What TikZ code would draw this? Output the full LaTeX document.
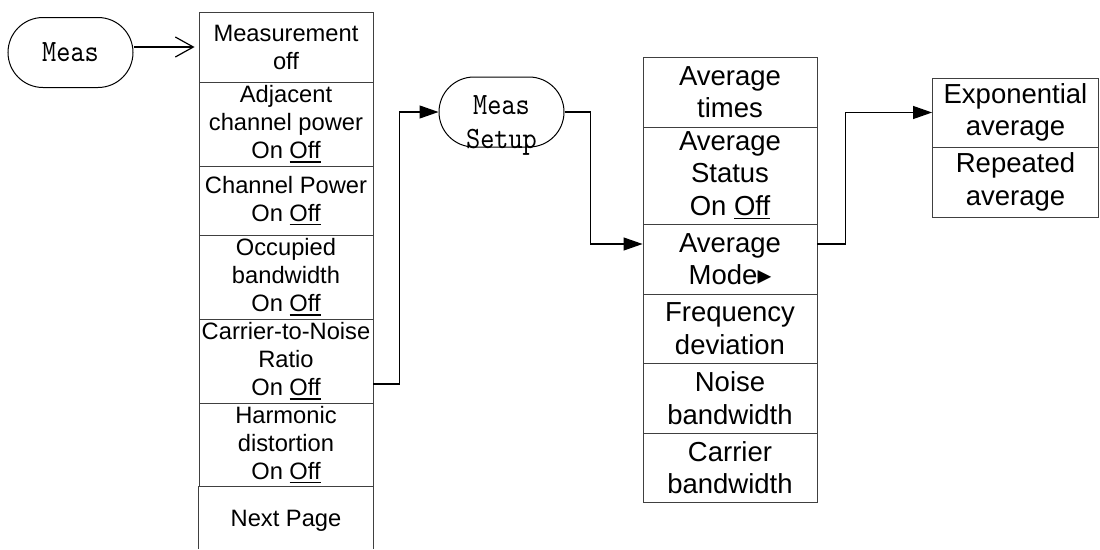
\documentclass[tikz,border=0pt]{standalone}
\usepackage{fontspec}
\setmainfont{Liberation Sans}
\newfontfamily\symfont{DejaVu Sans}
\newfontfamily\keyfont{lmmono10-regular.otf}[FakeStretch=0.87]
\usetikzlibrary{arrows.meta}
% underline for the active state of a toggle
\newcommand{\markoff}[1]{\leavevmode\vtop{\hbox{#1}\kern2.2pt\hrule height 1.5pt}}
\begin{document}
\begin{tikzpicture}[x=1pt,y=-1pt,
  cell/.style={draw=black!75, line width=0.9pt, inner sep=0pt, align=center, minimum width=174pt},
  smallcell/.style={cell, font=\fontsize{23.7}{28}\selectfont},
  bigcell/.style={cell, font=\fontsize{27.5}{32.5}\selectfont},
  oval/.style={draw, line width=1pt, rounded corners=35pt, minimum width=125pt, minimum height=70pt, inner sep=0pt},
  ovalfont/.style={font=\fontsize{31}{34}\selectfont\keyfont, align=center},
  edge/.style={draw=black!75, line width=0.9pt},
  link/.style={line width=1.2pt, -{Triangle[length=19pt,width=13pt]}},
  pointer/.style={line width=1.2pt, -{Straight Barb[length=18pt,width=20pt,line width=1.2pt]}}
]
\useasboundingbox (0,0) rectangle (1100,549);

% soft keys
\node[oval, ovalfont] (meas) at (70.5,52.5) {Meas};
\node[oval] (setup) at (501.5,112) {};
\node[ovalfont, inner sep=0pt] (setuptext) at ([yshift=-13pt]setup.center) {Meas\\Setup};

% Meas menu
\node[smallcell, minimum height=70pt] (m1) at (286,47) {Measurement\\off};
\node[smallcell, minimum height=84pt] (m2) at (286,124) {Adjacent\\channel power\\On \markoff{Off}};
\node[smallcell, minimum height=69pt] (m3) at (286,200.5) {Channel Power\\On \markoff{Off}};
\node[smallcell, minimum height=84pt] (m4) at (286,277) {Occupied\\bandwidth\\On \markoff{Off}};
\node[smallcell, minimum height=84pt] (m5) at (286,361) {Carrier-to-Noise\\Ratio\\On \markoff{Off}};
\node[smallcell, minimum height=83pt] (m6) at (286,444.5) {Harmonic\\distortion\\On \markoff{Off}};
\node[font=\fontsize{23.7}{28}\selectfont, inner sep=0pt] (m7) at (286,521) {Next Page};
\coordinate (bottom) at (0,549);
\draw[edge] (m6.south west) -- (m6.south west |- bottom);
\draw[edge] (m6.south east) -- (m6.south east |- bottom);

% Meas Setup menu
\node[bigcell, minimum height=70pt] (a1) at (730,92) {Average\\times};
\node[bigcell, minimum height=97pt] (a2) at (730,175.5) {Average\\Status\\On \markoff{Off}};
\node[bigcell, minimum height=70pt] (a3) at (730,259) {Average\\Mode{\symfont ▸}};
\node[bigcell, minimum height=69pt] (a4) at (730,328.5) {Frequency\\deviation};
\node[bigcell, minimum height=70pt] (a5) at (730,398) {Noise\\bandwidth};
\node[bigcell, minimum height=69pt] (a6) at (730,467.5) {Carrier\\bandwidth};

% Average Mode menu
\node[bigcell, minimum width=166pt, minimum height=69pt] (e1) at (1015.5,112.5) {Exponential\\average};
\node[bigcell, minimum width=166pt, minimum height=70pt] (e2) at (1015.5,182) {Repeated\\average};

% connectors
\draw[pointer] (meas.east |- m1.west) -- ([xshift=-4pt]m1.west);
\draw[link] ([yshift=-23pt]m5.east) -- ++(26pt,0pt) |- (setup.west);
\draw[link] (setup.east) -- ++(26pt,0pt) |- ([yshift=15pt]a3.west);
\draw[link] ([yshift=15pt]a3.east) -- ++(28pt,0pt) |- (e1.west);
\end{tikzpicture}
\end{document}
